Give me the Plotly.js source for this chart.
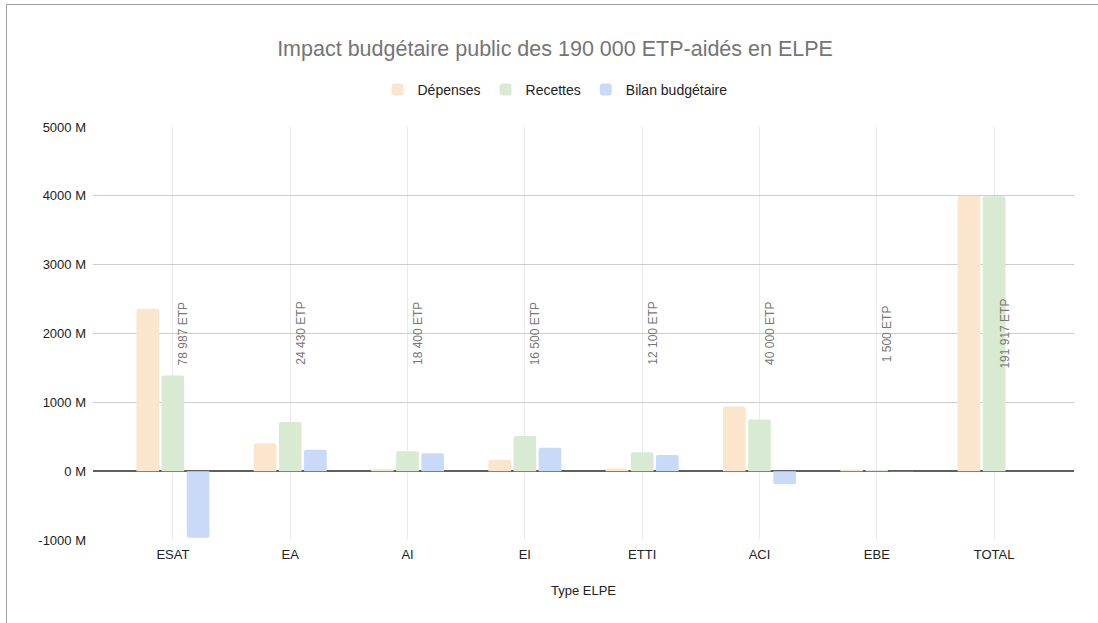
<!DOCTYPE html>
<html>
<head>
<meta charset="utf-8">
<script src="https://cdn.plot.ly/plotly-3.0.1.min.js"></script>
<style>
  html, body { margin: 0; padding: 0; background: #fff; }
  #chart { width: 1098px; height: 623px; position: absolute; left: 0; top: 0; }
  #frame { position: absolute; left: 6px; top: 4px; right: 0; bottom: 0;
           border-left: 1px solid #9e9e9e; border-top: 1px solid #9e9e9e; pointer-events: none; }
</style>
</head>
<body>
<div id="chart"></div>
<div id="frame"></div>
<script>
const categories = ["ESAT", "EA", "AI", "EI", "ETTI", "ACI", "EBE", "TOTAL"];
const depenses = [2360, 405, 30, 165, 40, 940, 25, 4000];
const recettes = [1390, 715, 290, 510, 275, 750, 18, 3995];
const bilan = [-967, 310, 260, 340, 235, -190, -3, 0];
const etpLabels = ["78 987 ETP", "24 430 ETP", "18 400 ETP", "16 500 ETP", "12 100 ETP", "40 000 ETP", "1 500 ETP", "191 917 ETP"];
const yTickVals = [-1000, 0, 1000, 2000, 3000, 4000, 5000];
const yTickText = ["-1000 M", "0 M", "1000 M", "2000 M", "3000 M", "4000 M", "5000 M"];
const seriesNames = ["Dépenses", "Recettes", "Bilan budgétaire"];
const seriesColors = ["#fce5cd", "#d9ead3", "#c9daf8"];
const labelLevel = 2000;

const FONT = "Arial, 'Liberation Sans', sans-serif";
const seriesValues = [depenses, recettes, bilan];

const traces = seriesValues.map((vals, i) => ({
  type: "bar",
  name: seriesNames[i],
  x: categories,
  y: vals,
  marker: { color: seriesColors[i], line: { width: 0 }, cornerradius: 2 },
  hoverinfo: "none"
}));

const annotations = categories.map((c, i) => ({
  x: c, y: labelLevel, xref: "x", yref: "y",
  text: etpLabels[i], textangle: -90, showarrow: false,
  xanchor: "center", yanchor: "middle", xshift: 10,
  font: { family: FONT, size: 12, color: "#777777" }
}));

const layout = {
  width: 1098, height: 623,
  margin: { l: 93, r: 24, t: 126.5, b: 82.5, pad: 0 },
  paper_bgcolor: "#ffffff", plot_bgcolor: "#ffffff",
  font: { family: FONT, size: 13, color: "#222222" },
  title: {
    text: "Impact budgétaire public des 190 000 ETP-aidés en ELPE",
    xref: "container", yref: "container", x: 0.5055, y: 1 - 48 / 623,
    xanchor: "center", yanchor: "middle",
    font: { family: FONT, size: 21.5, color: "#757575" }
  },
  showlegend: true,
  legend: {
    orientation: "h", xref: "container", yref: "container",
    x: 555 / 1098, y: 1 - 90 / 623, xanchor: "center", yanchor: "middle",
    font: { family: FONT, size: 14, color: "#222222" },
    itemwidth: 30, traceorder: "normal"
  },
  barmode: "group",
  bargap: 0.356,
  bargroupgap: 0.1,
  xaxis: {
    type: "category",
    range: [-0.681, 7.681],
    showgrid: true, gridcolor: "#ebebeb", gridwidth: 1,
    showline: false, zeroline: false, ticks: "",
    ticklabelstandoff: 5,
    tickfont: { family: FONT, size: 13, color: "#222222" },
    title: { text: "Type ELPE", font: { family: FONT, size: 13, color: "#222222" }, standoff: 24 },
    fixedrange: true
  },
  yaxis: {
    range: [-1000, 5000],
    tickmode: "array", tickvals: yTickVals, ticktext: yTickText,
    showgrid: true, gridcolor: "#cccccc", gridwidth: 1,
    zeroline: true, zerolinecolor: "#5f5f5f", zerolinewidth: 1.5,
    showline: false, ticks: "",
    ticklabelstandoff: 6,
    tickfont: { family: FONT, size: 13, color: "#222222" },
    fixedrange: true
  },
  annotations: annotations
};

Plotly.newPlot("chart", traces, layout, { staticPlot: true, displayModeBar: false });
</script>
</body>
</html>
